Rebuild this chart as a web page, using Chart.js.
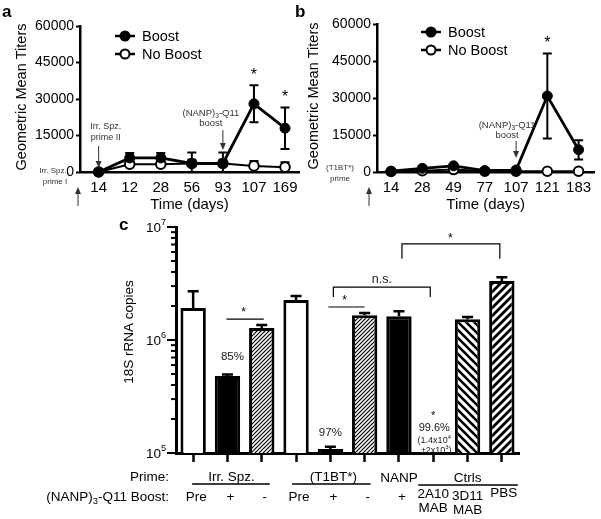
<!DOCTYPE html>
<html><head><meta charset="utf-8">
<script src="https://cdn.jsdelivr.net/npm/chart.js@4"></script>
<style>
html,body{margin:0;padding:0;background:#fff;}
#wrap{position:relative;width:601px;height:519px;overflow:hidden;}
canvas{position:absolute;left:0;top:0;}
</style></head><body>
<div id="wrap">
<canvas id="ca" width="601" height="519"></canvas>
<canvas id="cb" width="601" height="519"></canvas>
<canvas id="cc" width="601" height="519"></canvas>
</div>
<script>
const FONT = "'Liberation Sans', Arial, Helvetica, sans-serif";

// ---- Panel a data ----
const daysA = ['14','12','28','56','93','107','169'];
const boostA = [0, 5800, 5800, 3500, 3500, 28000, 18000];
const boostAErr = [0, 2000, 2000, 4500, 4500, 7600, 8500];
const noBoostA = [0, 3200, 3200, 3500, 3500, 2500, 2000];
const noBoostAErr = [0, 1500, 1500, 1500, 1500, 2000, 2000];
const starsA = [5, 6];

// ---- Panel b data ----
const daysB = ['14','28','49','77','107','121','183'];
const boostB = [300, 1500, 2500, 600, 800, 30800, 9000];
const boostBErr = [200, 500, 500, 300, 300, 17200, 3900];
const noBoostB = [200, 500, 1000, 300, 300, 300, 300];
const noBoostBErr = [0, 0, 0, 0, 0, 500, 500];
const starsB = [5];

const titerTicks = [0, 15000, 30000, 45000, 60000];

// ---- Panel c data ----
const groupsC = ['Irr. Spz. Pre','Irr. Spz. +','Irr. Spz. -','(T1BT*) Pre','(T1BT*) +','(T1BT*) -','NANP +','2A10 MAB','3D11 MAB','PBS'];
const boostRowC = ['Pre','+','-','Pre','+','-','+','2A10|MAB','3D11|MAB','PBS'];
const copiesC = [1.92e6, 4.8e5, 1.28e6, 2.26e6, 1.085e5, 1.66e6, 1.62e6, 1.4e4, 1.53e6, 3.33e6];
const copiesErrC = [0.78e6, 0.15e5, 0.08e6, 0.19e6, 0.05e5, 0.07e6, 0.18e6, 2e3, 0.07e6, 0.27e6];
const fillKindC = ['open','solid','fine','open','solid','fine','solid','open','back','fwd'];
const copyTicksExp = [5, 6, 7];

// ---------- helpers ----------
function txt(ctx, s, x, y, size, align, opts) {
  opts = opts || {};
  ctx.save();
  ctx.font = (opts.bold ? 'bold ' : '') + size + 'px ' + FONT;
  ctx.fillStyle = opts.color || '#000';
  ctx.textAlign = align || 'center';
  ctx.textBaseline = 'middle';
  ctx.fillText(s, x, y);
  ctx.restore();
}
function richTxt(ctx, parts, x, y, size, align, color) {
  ctx.save();
  ctx.fillStyle = color || '#000';
  ctx.textBaseline = 'middle';
  ctx.textAlign = 'left';
  let w = 0;
  parts.forEach(p => { ctx.font = (size * p[1]) + 'px ' + FONT; w += ctx.measureText(p[0]).width; });
  let cx = align === 'center' ? x - w / 2 : align === 'right' ? x - w : x;
  parts.forEach(p => {
    ctx.font = (size * p[1]) + 'px ' + FONT;
    ctx.fillText(p[0], cx, y + (p[2] || 0) * size);
    cx += ctx.measureText(p[0]).width;
  });
  ctx.restore();
}
function arrow(ctx, x, y1, y2, color) {
  ctx.save();
  ctx.strokeStyle = color; ctx.fillStyle = color; ctx.lineWidth = 1;
  const d = y2 > y1 ? 1 : -1;
  ctx.beginPath(); ctx.moveTo(x, y1); ctx.lineTo(x, y2 - d * 4); ctx.stroke();
  ctx.beginPath(); ctx.moveTo(x, y2); ctx.lineTo(x - 3, y2 - d * 7); ctx.lineTo(x + 3, y2 - d * 7); ctx.closePath(); ctx.fill();
  ctx.restore();
}
function vErr(ctx, x, y0, y1, cap, lw) {
  ctx.save();
  ctx.strokeStyle = '#000'; ctx.lineWidth = lw;
  ctx.beginPath(); ctx.moveTo(x, y0); ctx.lineTo(x, y1);
  ctx.moveTo(x - cap / 2, y1); ctx.lineTo(x + cap / 2, y1);
  ctx.stroke();
  ctx.restore();
}
function vRot(ctx, s, x, y, size) {
  ctx.save();
  ctx.translate(x, y); ctx.rotate(-Math.PI / 2);
  ctx.font = size + 'px ' + FONT; ctx.fillStyle = '#000';
  ctx.textAlign = 'center'; ctx.textBaseline = 'middle';
  ctx.fillText(s, 0, 0);
  ctx.restore();
}
const NANP = [['(NANP)', 1, 0], ['3', 0.7, 0.35], ['-Q11', 1, 0]];

// ---------- line charts ----------
function makeLine(id, cats, boost, boostErr, nob, nobErr, stars, area, extra) {
  const xh = 45;
  const errPlugin = {
    id: 'err_' + id,
    beforeDatasetsDraw(chart) {
      const ctx = chart.ctx, y = chart.scales.y;
      chart.data.datasets.forEach((ds, di) => {
        const meta = chart.getDatasetMeta(di);
        ds.errUp.forEach((e, i) => {
          if (!e) return;
          const v = ds.data[i].y, px = meta.data[i].x;
          vErr(ctx, px, y.getPixelForValue(v), y.getPixelForValue(v + e), 9, 2);
          if (ds.errDown) vErr(ctx, px, y.getPixelForValue(v), y.getPixelForValue(Math.max(0, v - ds.errDown[i])), 9, 2);
        });
      });
    },
    afterDraw(chart) {
      const ctx = chart.ctx, x = chart.scales.x, y = chart.scales.y;
      stars.forEach(i => {
        txt(ctx, '*', x.getPixelForValue(i), y.getPixelForValue(boost[i] + boostErr[i]) - 10, 16, 'center');
      });
      const L = extra.legend;
      [['Boost', '#000', 0], ['No Boost', '#fff', 1]].forEach(([lab, fill, k]) => {
        const ly = L.y + k * L.dy;
        ctx.save();
        ctx.strokeStyle = '#000'; ctx.lineWidth = 2.5;
        ctx.beginPath(); ctx.moveTo(L.x, ly); ctx.lineTo(L.x + 20, ly); ctx.stroke();
        ctx.fillStyle = fill; ctx.lineWidth = 2;
        ctx.beginPath(); ctx.arc(L.x + 10, ly, 4.5, 0, Math.PI * 2); ctx.fill(); ctx.stroke();
        ctx.restore();
        txt(ctx, lab, L.x + 27, ly + 1, 14.5, 'left');
      });
      vRot(ctx, 'Geometric Mean Titers', extra.ytitleX, (chart.chartArea.top + chart.chartArea.bottom) / 2 - 2, 14.5);
      txt(ctx, 'Time (days)', (chart.chartArea.left + chart.chartArea.right) / 2, 205, 15, 'center');
      txt(ctx, extra.panel, extra.panelX, 12, 17, 'left', {bold: true});
      extra.notes(ctx, x, y);
    }
  };
  return new Chart(document.getElementById(id), {
    type: 'line',
    data: {
      labels: cats,
      datasets: [
        {label: 'Boost', data: boost.map((v, i) => ({x: i, y: v})), errUp: boostErr, errDown: boostErr,
         borderColor: '#000', borderWidth: 2.8, pointRadius: 5, pointBackgroundColor: '#000',
         pointBorderColor: '#000', pointBorderWidth: 1, fill: false, tension: 0, clip: false},
        {label: 'No Boost', data: nob.map((v, i) => ({x: i, y: v})), errUp: nobErr,
         borderColor: '#000', borderWidth: 2, pointRadius: 4.8, pointBackgroundColor: '#fff',
         pointBorderColor: '#000', pointBorderWidth: 2, fill: false, tension: 0, clip: false}
      ]
    },
    options: {
      responsive: false, animation: false, events: [],
      layout: {padding: {left: area.padLeft, top: area.top, right: 601 - area.right, bottom: 519 - area.bottom - xh}},
      plugins: {legend: {display: false}, tooltip: {enabled: false}},
      scales: {
        x: {
          type: 'linear', min: area.xmin, max: area.xmax,
          afterBuildTicks: s => { s.ticks = cats.map((c, i) => ({value: i})); },
          afterFit: s => { s.height = xh; },
          ticks: {callback: v => cats[v], font: {family: FONT, size: 15}, color: '#000', padding: 7, autoSkip: false, maxRotation: 0},
          grid: {display: false, drawTicks: false},
          border: {display: true, color: '#000', width: 2.5}
        },
        y: {
          min: 0, max: 60000,
          afterBuildTicks: s => { s.ticks = titerTicks.map(v => ({value: v})); },
          afterFit: s => { s.width = area.left - area.padLeft; },
          ticks: {callback: v => String(v), font: {family: FONT, size: 14}, color: '#000', padding: 2},
          grid: {drawOnChartArea: false, tickLength: 4, tickColor: '#000', tickWidth: 2},
          border: {display: true, color: '#000', width: 2.5}
        }
      }
    },
    plugins: [errPlugin]
  });
}

const GREY = '#333';
makeLine('ca', daysA, boostA, boostAErr, noBoostA, noBoostAErr, starsA,
  {padLeft: 0, left: 80, right: 299, top: 26, bottom: 172, xmin: -0.6, xmax: 6.45},
  {legend: {x: 115, y: 36, dy: 18}, ytitleX: 22, panel: 'a', panelX: 2,
   notes(ctx, x, y) {
     const x0 = x.getPixelForValue(0), x4 = x.getPixelForValue(4);
     txt(ctx, 'Irr. Spz.', x0 + 7, 127, 9, 'center', {color: GREY});
     txt(ctx, 'prime II', x0 + 7, 138, 9, 'center', {color: GREY});
     arrow(ctx, x0, 146, 168, GREY);
     richTxt(ctx, NANP, x4 - 12, 113, 9.5, 'center', GREY);
     txt(ctx, 'boost', x4 - 12, 123, 9.5, 'center', {color: GREY});
     arrow(ctx, x4, 130, 150, GREY);
     txt(ctx, 'Irr. Spz.', 53, 171, 8, 'center', {color: GREY});
     txt(ctx, 'prime I', 55, 182, 8, 'center', {color: GREY});
     arrow(ctx, 78, 206, 187, GREY);
   }});

makeLine('cb', daysB, boostB, boostBErr, noBoostB, noBoostBErr, starsB,
  {padLeft: 300, left: 377, right: 597, top: 24, bottom: 172, xmin: -0.45, xmax: 6.5},
  {legend: {x: 421, y: 32, dy: 18}, ytitleX: 314, panel: 'b', panelX: 295,
   notes(ctx, x, y) {
     const x4 = x.getPixelForValue(4);
     richTxt(ctx, NANP, x4 - 9, 125, 9.5, 'center', GREY);
     txt(ctx, 'boost', x4 - 9, 135, 9.5, 'center', {color: GREY});
     arrow(ctx, x4, 141, 158, GREY);
     txt(ctx, '(T1BT*)', 340, 168, 8, 'center', {color: GREY});
     txt(ctx, 'prime', 340, 179, 8, 'center', {color: GREY});
     arrow(ctx, 369, 206, 187, GREY);
   }});

// ---------- bar chart ----------
const cc = document.getElementById('cc');
const mainCtx = cc.getContext('2d');
function hatch(size, lw, dir) {
  const c = document.createElement('canvas');
  c.width = c.height = size;
  const g = c.getContext('2d');
  g.fillStyle = '#fff'; g.fillRect(0, 0, size, size);
  g.strokeStyle = '#000'; g.lineWidth = lw; g.lineCap = 'square';
  g.beginPath();
  for (let k = -1; k <= 1; k++) {
    if (dir > 0) { g.moveTo(k * size, size); g.lineTo(k * size + size, 0); }
    else { g.moveTo(k * size, 0); g.lineTo(k * size + size, size); }
  }
  g.stroke();
  return mainCtx.createPattern(c, 'repeat');
}
const fills = {open: '#fff', solid: '#000', fine: hatch(4, 1.2, 1), back: hatch(8, 2.6, -1), fwd: hatch(8, 2.8, 1)};

const cPlugin = {
  id: 'cplug',
  afterDatasetsDraw(chart) {
    const ctx = chart.ctx, x = chart.scales.x, y = chart.scales.y;
    copiesC.forEach((v, i) => {
      if (v < y.min) return;
      vErr(ctx, x.getPixelForValue(i), y.getPixelForValue(v), y.getPixelForValue(v + copiesErrC[i]), 11, 2.5);
    });
  },
  afterDraw(chart) {
    const ctx = chart.ctx, x = chart.scales.x, y = chart.scales.y;
    const left = chart.chartArea.left, X = i => x.getPixelForValue(i), Y = v => y.getPixelForValue(v);
    ctx.save(); ctx.strokeStyle = '#000'; ctx.lineWidth = 2;
    for (let e = 5; e <= 7; e++) {
      for (let k = 1; k <= 9; k++) {
        if (e === 7 && k > 1) break;
        const py = Y(k * Math.pow(10, e));
        ctx.beginPath(); ctx.moveTo(left - (k === 1 ? 9 : 5), py); ctx.lineTo(left, py); ctx.stroke();
      }
    }
    ctx.restore();
    copyTicksExp.forEach(e => {
      richTxt(ctx, [['10', 1, 0.12], [String(e), 0.68, -0.3]], left - 10, Y(Math.pow(10, e)), 13.5, 'right');
    });
    vRot(ctx, '18S rRNA copies', 129, 332, 13.5);
    txt(ctx, 'c', 119, 225, 17, 'left', {bold: true});
    ctx.save(); ctx.strokeStyle = '#000'; ctx.lineWidth = 1.2;
    const line = (a, b, v, leg) => {
      const py = Y(v);
      ctx.beginPath();
      if (leg) { ctx.moveTo(a, py + leg); ctx.lineTo(a, py); ctx.lineTo(b, py); ctx.lineTo(b, py + leg); }
      else { ctx.moveTo(a, py); ctx.lineTo(b, py); }
      ctx.stroke();
    };
    line(X(1) - 1, X(2) + 2, 1.53e6, 0);
    line(X(4) - 2, X(5), 1.96e6, 0);
    line(X(4) + 3, X(7) - 3, 2.94e6, 10);
    line(X(6) + 3, X(9) - 2, 7.1e6, 15);
    ctx.restore();
    txt(ctx, '*', (X(1) + X(2)) / 2 - 1, Y(1.53e6) - 6, 12, 'center');
    txt(ctx, '*', (X(4) + X(5)) / 2 - 3, Y(1.96e6) - 6, 12, 'center');
    txt(ctx, 'n.s.', (X(4) + X(7)) / 2, Y(2.94e6) - 8, 12.5, 'center', {color: '#222'});
    txt(ctx, '*', (X(6) + X(9)) / 2, Y(7.1e6) - 5, 12, 'center');
    txt(ctx, '85%', X(1) + 5, Y(copiesC[1]) - 19, 11.5, 'center', {color: '#222'});
    txt(ctx, '97%', X(4), Y(copiesC[4]) - 16, 11.5, 'center', {color: '#222'});
    txt(ctx, '*', X(7), 416, 11, 'center');
    txt(ctx, '99.6%', X(7) + 1, 428, 11, 'center', {color: '#222'});
    richTxt(ctx, [['(1.4x10', 1, 0], ['4', 0.65, -0.35]], X(7) + 1, 441, 9, 'center', '#222');
    richTxt(ctx, [['\u00b12x10', 1, 0], ['3', 0.65, -0.35], [')', 1, 0]], X(7) + 3, 451, 9, 'center', '#222');
    const r1 = 477, r2 = 497;
    txt(ctx, 'Prime:', 169, r1, 13.5, 'right');
    richTxt(ctx, [['(NANP)', 1, 0], ['3', 0.7, 0.35], ['-Q11 Boost:', 1, 0]], 169, r2, 13.5, 'right');
    txt(ctx, 'Irr. Spz.', X(1) + 4, r1, 13.5, 'center');
    txt(ctx, '(T1BT*)', X(4) + 3, r1, 13.5, 'center');
    txt(ctx, 'NANP', X(6), r1 + 1, 13.5, 'center');
    txt(ctx, 'Ctrls', X(8), r1 + 1, 13.5, 'center');
    ctx.save(); ctx.strokeStyle = '#000'; ctx.lineWidth = 1.3;
    ctx.beginPath();
    ctx.moveTo(X(0) - 1, 484); ctx.lineTo(X(2) + 8, 484);
    ctx.moveTo(X(3) - 4, 484); ctx.lineTo(X(5) + 6, 484);
    ctx.moveTo(X(7) - 15, 485); ctx.lineTo(X(9) + 16, 485);
    ctx.stroke(); ctx.restore();
    boostRowC.forEach((s, i) => {
      const parts = s.split('|');
      if (parts.length === 2) {
        txt(ctx, parts[0], X(i), i === 7 ? 494 : 496, 13.5, 'center');
        txt(ctx, parts[1], X(i), i === 7 ? 508 : 510, 13.5, 'center');
      } else {
        txt(ctx, parts[0], X(i) + (i === 9 ? 2 : 3), i === 9 ? 493 : r2, 13.5, 'center');
      }
    });
  }
};

new Chart(cc, {
  type: 'bar',
  data: {
    labels: groupsC,
    datasets: [{
      data: copiesC,
      backgroundColor: fillKindC.map(k => fills[k]),
      borderColor: '#000', borderWidth: 3,
      barPercentage: 0.74, categoryPercentage: 1, clip: 0
    }]
  },
  options: {
    responsive: false, animation: false, events: [],
    layout: {padding: {left: 0, top: 227, right: 601 - 519, bottom: 519 - 453 - 10}},
    plugins: {legend: {display: false}, tooltip: {enabled: false}},
    scales: {
      x: {
        type: 'category', offset: true,
        afterFit: s => { s.height = 10; },
        ticks: {display: false},
        grid: {display: true, drawOnChartArea: false, offset: false, tickLength: 9, tickColor: '#000', tickWidth: 2.5},
        border: {display: true, color: '#000', width: 3}
      },
      y: {
        type: 'logarithmic', min: 1e5, max: 1e7,
        afterFit: s => { s.width = 176; },
        ticks: {display: false},
        grid: {display: false},
        border: {display: true, color: '#000', width: 3}
      }
    }
  },
  plugins: [cPlugin]
});
</script>
</body></html>
